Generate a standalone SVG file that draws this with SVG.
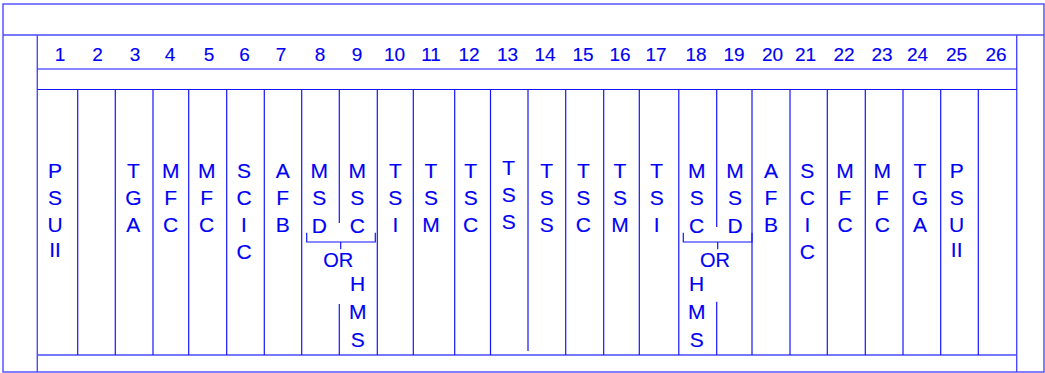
<svg xmlns="http://www.w3.org/2000/svg" width="1045" height="373" viewBox="0 0 1045 373">
<style>
.frame{stroke:#4a4aff;stroke-width:1.4;fill:none}
.ln{stroke:#1414ff;stroke-width:1.2;fill:none}
.num{font-family:"Liberation Sans",Arial,sans-serif;font-size:19px;fill:#0000f5;stroke:#0000f5;stroke-width:0.15;text-anchor:middle}
.lbl{font-family:"Liberation Sans",Arial,sans-serif;font-size:21px;fill:#0000f5;stroke:#0000f5;stroke-width:0.15;text-anchor:middle}
.or{font-family:"Liberation Sans",Arial,sans-serif;font-size:20px;fill:#0000f5;stroke:#0000f5;stroke-width:0.15;text-anchor:middle}
</style>
<rect width="1045" height="373" fill="#ffffff"/>
<g id="frame">
<rect class="frame" x="3" y="4" width="1041" height="368"/>
<line class="frame" x1="3" y1="35" x2="1044" y2="35"/>
<line class="frame" x1="37.3" y1="35" x2="37.3" y2="372"/>
<line class="frame" x1="1016.7" y1="35" x2="1016.7" y2="372"/>
<line class="ln" x1="37.3" y1="69" x2="1016.7" y2="69"/>
<line class="ln" x1="37.3" y1="89.5" x2="1016.7" y2="89.5"/>
<line class="frame" x1="37.3" y1="355" x2="1016.7" y2="355"/>
</g>
<g id="numbers">
<text class="num" x="60" y="61">1</text>
<text class="num" x="97.5" y="61">2</text>
<text class="num" x="135" y="61">3</text>
<text class="num" x="170" y="61">4</text>
<text class="num" x="209" y="61">5</text>
<text class="num" x="244.5" y="61">6</text>
<text class="num" x="281" y="61">7</text>
<text class="num" x="320" y="61">8</text>
<text class="num" x="357" y="61">9</text>
<text class="num" x="394.5" y="61">10</text>
<text class="num" x="431" y="61">11</text>
<text class="num" x="469" y="61">12</text>
<text class="num" x="507.5" y="61">13</text>
<text class="num" x="545" y="61">14</text>
<text class="num" x="583" y="61">15</text>
<text class="num" x="620" y="61">16</text>
<text class="num" x="656" y="61">17</text>
<text class="num" x="696" y="61">18</text>
<text class="num" x="734" y="61">19</text>
<text class="num" x="772.5" y="61">20</text>
<text class="num" x="805.5" y="61">21</text>
<text class="num" x="844" y="61">22</text>
<text class="num" x="882" y="61">23</text>
<text class="num" x="917.5" y="61">24</text>
<text class="num" x="956.5" y="61">25</text>
<text class="num" x="996" y="61">26</text>
</g>
<g id="slot-lines">
<line class="ln" x1="77.7" y1="89.5" x2="77.7" y2="355"/>
<line class="ln" x1="115.3" y1="89.5" x2="115.3" y2="355"/>
<line class="ln" x1="153" y1="89.5" x2="153" y2="355"/>
<line class="ln" x1="188.7" y1="89.5" x2="188.7" y2="355"/>
<line class="ln" x1="226.7" y1="89.5" x2="226.7" y2="355"/>
<line class="ln" x1="264.3" y1="89.5" x2="264.3" y2="355"/>
<line class="ln" x1="301.7" y1="89.5" x2="301.7" y2="355"/>
<line class="ln" x1="339.3" y1="89.5" x2="339.3" y2="223"/>
<line class="ln" x1="339.3" y1="304" x2="339.3" y2="355"/>
<line class="ln" x1="377.3" y1="89.5" x2="377.3" y2="355"/>
<line class="ln" x1="413.3" y1="89.5" x2="413.3" y2="355"/>
<line class="ln" x1="454.7" y1="89.5" x2="454.7" y2="355"/>
<line class="ln" x1="490.5" y1="89.5" x2="490.5" y2="355"/>
<line class="ln" x1="528" y1="89.5" x2="528" y2="351"/>
<line class="ln" x1="565.7" y1="89.5" x2="565.7" y2="355"/>
<line class="ln" x1="603.7" y1="89.5" x2="603.7" y2="355"/>
<line class="ln" x1="639.3" y1="89.5" x2="639.3" y2="355"/>
<line class="ln" x1="678.8" y1="89.5" x2="678.8" y2="355"/>
<line class="ln" x1="716.7" y1="89.5" x2="716.7" y2="227"/>
<line class="ln" x1="716.7" y1="301.7" x2="716.7" y2="355"/>
<line class="ln" x1="752" y1="89.5" x2="752" y2="355"/>
<line class="ln" x1="790" y1="89.5" x2="790" y2="355"/>
<line class="ln" x1="827.3" y1="89.5" x2="827.3" y2="355"/>
<line class="ln" x1="865.3" y1="89.5" x2="865.3" y2="355"/>
<line class="ln" x1="903" y1="89.5" x2="903" y2="355"/>
<line class="ln" x1="940.7" y1="89.5" x2="940.7" y2="355"/>
<line class="ln" x1="978.3" y1="89.5" x2="978.3" y2="355"/>
</g>
<g id="slot1"><text class="lbl" y="177.5"><tspan x="55">P</tspan><tspan x="55" dy="27">S</tspan><tspan x="55" dy="27">U</tspan><tspan x="55" dy="25.5">II</tspan></text></g>
<g id="slot3"><text class="lbl" y="177.5"><tspan x="133.3">T</tspan><tspan x="133.3" dy="27">G</tspan><tspan x="133.3" dy="27">A</tspan></text></g>
<g id="slot4"><text class="lbl" y="177.5"><tspan x="170.7">M</tspan><tspan x="170.7" dy="27">F</tspan><tspan x="170.7" dy="27">C</tspan></text></g>
<g id="slot5"><text class="lbl" y="177.5"><tspan x="206.7">M</tspan><tspan x="206.7" dy="27">F</tspan><tspan x="206.7" dy="27">C</tspan></text></g>
<g id="slot6"><text class="lbl" y="177.5"><tspan x="244">S</tspan><tspan x="244" dy="27">C</tspan><tspan x="244" dy="27">I</tspan><tspan x="244" dy="27">C</tspan></text></g>
<g id="slot7"><text class="lbl" y="177.5"><tspan x="282.7">A</tspan><tspan x="282.7" dy="27">F</tspan><tspan x="282.7" dy="27">B</tspan></text></g>
<g id="slot8"><text class="lbl" y="177.5"><tspan x="319.3">M</tspan><tspan x="319.3" dy="27.5">S</tspan><tspan x="319.3" dy="27.5">D</tspan></text></g>
<g id="slot9"><text class="lbl" y="177.5"><tspan x="357.3">M</tspan><tspan x="357.3" dy="27.5">S</tspan><tspan x="357.3" dy="27.5">C</tspan></text>
<text class="lbl" y="291"><tspan x="357.7">H</tspan><tspan x="357.7" dy="28">M</tspan><tspan x="357.7" dy="28">S</tspan></text></g>
<g id="slot10"><text class="lbl" y="177.5"><tspan x="395.3">T</tspan><tspan x="395.3" dy="27">S</tspan><tspan x="395.3" dy="27">I</tspan></text></g>
<g id="slot11"><text class="lbl" y="177.5"><tspan x="431">T</tspan><tspan x="431" dy="27">S</tspan><tspan x="431" dy="27">M</tspan></text></g>
<g id="slot12"><text class="lbl" y="177.5"><tspan x="470.7">T</tspan><tspan x="470.7" dy="27">S</tspan><tspan x="470.7" dy="27">C</tspan></text></g>
<g id="slot13"><text class="lbl" y="174.5"><tspan x="508.7">T</tspan><tspan x="508.7" dy="27">S</tspan><tspan x="508.7" dy="27">S</tspan></text></g>
<g id="slot14"><text class="lbl" y="177.5"><tspan x="546.7">T</tspan><tspan x="546.7" dy="27">S</tspan><tspan x="546.7" dy="27">S</tspan></text></g>
<g id="slot15"><text class="lbl" y="177.5"><tspan x="583.3">T</tspan><tspan x="583.3" dy="27">S</tspan><tspan x="583.3" dy="27">C</tspan></text></g>
<g id="slot16"><text class="lbl" y="177.5"><tspan x="620">T</tspan><tspan x="620" dy="27">S</tspan><tspan x="620" dy="27">M</tspan></text></g>
<g id="slot17"><text class="lbl" y="177.5"><tspan x="656.7">T</tspan><tspan x="656.7" dy="27">S</tspan><tspan x="656.7" dy="27">I</tspan></text></g>
<g id="slot18"><text class="lbl" y="177.5"><tspan x="696.7">M</tspan><tspan x="696.7" dy="27.5">S</tspan><tspan x="696.7" dy="27.5">C</tspan></text>
<text class="lbl" y="290.5"><tspan x="696.7">H</tspan><tspan x="696.7" dy="28">M</tspan><tspan x="696.7" dy="28">S</tspan></text></g>
<g id="slot19"><text class="lbl" y="177.5"><tspan x="735">M</tspan><tspan x="735" dy="27.5">S</tspan><tspan x="735" dy="27.5">D</tspan></text></g>
<g id="slot20"><text class="lbl" y="177.5"><tspan x="771">A</tspan><tspan x="771" dy="27">F</tspan><tspan x="771" dy="27">B</tspan></text></g>
<g id="slot21"><text class="lbl" y="177.5"><tspan x="807.3">S</tspan><tspan x="807.3" dy="27">C</tspan><tspan x="807.3" dy="27">I</tspan><tspan x="807.3" dy="27">C</tspan></text></g>
<g id="slot22"><text class="lbl" y="177.5"><tspan x="845">M</tspan><tspan x="845" dy="27">F</tspan><tspan x="845" dy="27">C</tspan></text></g>
<g id="slot23"><text class="lbl" y="177.5"><tspan x="882.3">M</tspan><tspan x="882.3" dy="27">F</tspan><tspan x="882.3" dy="27">C</tspan></text></g>
<g id="slot24"><text class="lbl" y="177.5"><tspan x="920">T</tspan><tspan x="920" dy="27">G</tspan><tspan x="920" dy="27">A</tspan></text></g>
<g id="slot25"><text class="lbl" y="177.5"><tspan x="956.7">P</tspan><tspan x="956.7" dy="27">S</tspan><tspan x="956.7" dy="27">U</tspan><tspan x="956.7" dy="25.5">II</tspan></text></g>
<g id="connectors">
<path class="ln" d="M306.7 232.7 V242 H375.3 V232.7 M340.7 242 V249.3"/>
<path class="ln" d="M683.3 232.7 V242 H752 V232.7 M717.7 242 V249.3"/>
<text class="or" x="338.3" y="267">OR</text>
<text class="or" x="715" y="267">OR</text>
</g>
</svg>
